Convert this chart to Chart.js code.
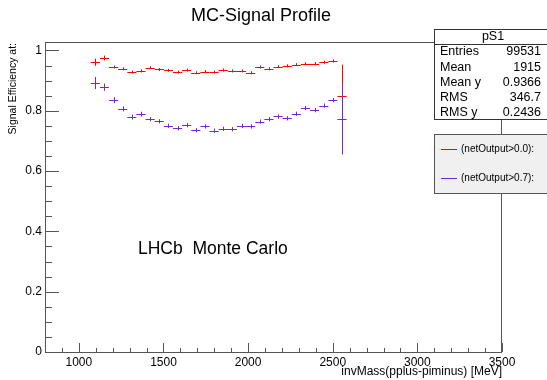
<!DOCTYPE html>
<html>
<head>
<meta charset="utf-8">
<script src="https://cdn.jsdelivr.net/npm/chart.js@4.4.1/dist/chart.umd.min.js"></script>
<style>
  html, body { margin: 0; padding: 0; background: #fff; }
</style>
</head>
<body>
<canvas id="profile" width="547" height="380"></canvas>
<script>
// bin centres (MeV), 54 MeV bins
const massBins = [1097, 1151, 1205, 1259, 1313, 1367, 1421, 1475, 1529, 1583,
  1637, 1691, 1745, 1799, 1853, 1907, 1961, 2015, 2069, 2123,
  2177, 2231, 2285, 2339, 2393, 2447, 2501, 2555];
const binHalfWidth = 27;

// netOutput > 0.0
const effCut00 = [0.961, 0.975, 0.945, 0.939, 0.928, 0.932, 0.943, 0.937, 0.934, 0.928,
  0.935, 0.926, 0.930, 0.928, 0.935, 0.932, 0.932, 0.926, 0.945, 0.939,
  0.946, 0.949, 0.953, 0.956, 0.956, 0.961, 0.965, 0.848];
const errCut00 = [0.012, 0.008, 0.005, 0.005, 0.005, 0.005, 0.005, 0.005, 0.005, 0.005,
  0.005, 0.005, 0.005, 0.005, 0.005, 0.005, 0.005, 0.005, 0.005, 0.005,
  0.005, 0.005, 0.005, 0.005, 0.005, 0.005, 0.005, 0.105];

// netOutput > 0.7
const effCut07 = [0.892, 0.878, 0.835, 0.806, 0.779, 0.789, 0.772, 0.765, 0.750, 0.742,
  0.752, 0.736, 0.748, 0.734, 0.740, 0.739, 0.750, 0.748, 0.764, 0.772,
  0.781, 0.775, 0.790, 0.809, 0.802, 0.817, 0.835, 0.773];
const errCut07 = [0.020, 0.012, 0.010, 0.008, 0.008, 0.008, 0.007, 0.007, 0.007, 0.007,
  0.007, 0.007, 0.007, 0.007, 0.007, 0.007, 0.007, 0.007, 0.007, 0.007,
  0.007, 0.007, 0.007, 0.007, 0.007, 0.007, 0.007, 0.118];

const xTicks = [1000, 1500, 2000, 2500, 3000, 3500];
const xMinorTicks = [900, 1100, 1200, 1300, 1400, 1600, 1700, 1800, 1900, 2100, 2200, 2300, 2400,
  2600, 2700, 2800, 2900, 3100, 3200, 3300, 3400];
const yTicks = [0, 0.2, 0.4, 0.6, 0.8, 1];
const yMinorTicks = [0.05, 0.1, 0.15, 0.25, 0.3, 0.35, 0.45, 0.5, 0.55, 0.65, 0.7, 0.75, 0.85, 0.9, 0.95, 1.0];

const statsRows = [["Entries", "99531"], ["Mean", "1915"], ["Mean y", "0.9366"], ["RMS", "346.7"], ["RMS y", "0.2436"]];

const RED = "#ff0000";
const VIOLET = "#7a22dc";
const FRAME = "#555555";
const FONT = "'Liberation Sans', Arial, sans-serif";
const seriesColors = [RED, VIOLET];

function toPoints(vals) {
  return massBins.map((m, i) => ({ x: m, y: vals[i] }));
}

// draws error crosses, inward ticks, frame, title, stats & legend boxes
const rootStyle = {
  id: "rootStyle",
  afterDatasetsDraw(chart) {
    const ctx = chart.ctx;
    const xs = chart.scales.x, ys = chart.scales.y;
    const a = chart.chartArea;
    ctx.save();
    ctx.beginPath();
    ctx.rect(a.left, a.top, a.right - a.left, a.bottom - a.top);
    ctx.clip();
    [[effCut00, errCut00, RED], [effCut07, errCut07, VIOLET]].forEach(([eff, err, col]) => {
      ctx.strokeStyle = col;
      ctx.lineWidth = 1;
      massBins.forEach((m, i) => {
        const px = Math.round(xs.getPixelForValue(m)) + 0.5;
        const py = Math.round(ys.getPixelForValue(eff[i])) + 0.5;
        const x1 = xs.getPixelForValue(m - binHalfWidth);
        const x2 = xs.getPixelForValue(m + binHalfWidth);
        const y1 = ys.getPixelForValue(eff[i] + err[i]);
        const y2 = ys.getPixelForValue(eff[i] - err[i]);
        ctx.beginPath();
        ctx.moveTo(x1, py); ctx.lineTo(x2, py);
        ctx.moveTo(px, y1); ctx.lineTo(px, y2);
        ctx.stroke();
      });
    });
    ctx.restore();
  },
  afterDraw(chart) {
    const ctx = chart.ctx;
    const xs = chart.scales.x, ys = chart.scales.y;
    const a = chart.chartArea;
    ctx.save();

    // frame
    ctx.strokeStyle = FRAME;
    ctx.lineWidth = 1;
    ctx.strokeRect(a.left + 0.5, a.top + 0.5, a.right - a.left - 1, a.bottom - a.top);

    // ticks pointing inwards
    ctx.beginPath();
    xTicks.forEach(v => { const p = Math.round(xs.getPixelForValue(v)) + 0.5; ctx.moveTo(p, a.bottom); ctx.lineTo(p, a.bottom - 9); });
    xMinorTicks.forEach(v => { const p = Math.round(xs.getPixelForValue(v)) + 0.5; ctx.moveTo(p, a.bottom); ctx.lineTo(p, a.bottom - 4); });
    yTicks.forEach(v => { const p = Math.round(ys.getPixelForValue(v)) + 0.5; ctx.moveTo(a.left, p); ctx.lineTo(a.left + 14, p); });
    yMinorTicks.forEach(v => { const p = Math.round(ys.getPixelForValue(v)) + 0.5; ctx.moveTo(a.left, p); ctx.lineTo(a.left + 7, p); });
    ctx.stroke();

    // title + axis titles
    ctx.fillStyle = "#000";
    ctx.font = "18px " + FONT;
    ctx.textAlign = "center";
    ctx.textBaseline = "middle";
    ctx.fillText("MC-Signal Profile", 261, 16);

    ctx.font = "12px " + FONT;
    ctx.textAlign = "right";
    ctx.fillText("invMass(pplus-piminus) [MeV]", 502, 372);

    ctx.save();
    ctx.font = "10.5px " + FONT;
    ctx.translate(13, 43);
    ctx.rotate(-Math.PI / 2);
    ctx.textAlign = "right";
    ctx.fillText("Signal Efficiency at:", 0, 0);
    ctx.restore();

    // LHCb label
    ctx.font = "17.5px " + FONT;
    ctx.textAlign = "left";
    ctx.fillText("LHCb  Monte Carlo", 138, 249);

    // stats box
    const sx = 434.5, sy = 29.5, sw = 120, sh = 90;
    ctx.fillStyle = "#fff";
    ctx.fillRect(sx, sy, sw, sh);
    ctx.strokeStyle = "#333";
    ctx.strokeRect(sx, sy, sw, sh);
    ctx.beginPath();
    ctx.moveTo(sx, 44.5); ctx.lineTo(sx + sw, 44.5);
    ctx.stroke();
    ctx.fillStyle = "#000";
    ctx.font = "12.5px " + FONT;
    ctx.textAlign = "center";
    ctx.fillText("pS1", 493, 37);
    statsRows.forEach((r, i) => {
      const yy = 52 + i * 15.2;
      ctx.textAlign = "left";
      ctx.fillText(r[0], 440, yy);
      ctx.textAlign = "right";
      ctx.fillText(r[1], 541, yy);
    });

    // legend box
    const lx = 434.5, ly = 134.5, lw = 120, lh = 59;
    ctx.fillStyle = "#f0f0f0";
    ctx.fillRect(lx, ly, lw, lh);
    ctx.strokeStyle = "#555";
    ctx.strokeRect(lx, ly, lw, lh);
    chart.data.datasets.forEach((ds, i) => {
      const yy = 149.5 + i * 29;
      ctx.strokeStyle = seriesColors[i];
      ctx.lineWidth = 1;
      ctx.beginPath();
      ctx.moveTo(441, yy); ctx.lineTo(457, yy);
      ctx.stroke();
      ctx.fillStyle = "#000";
      ctx.font = "10px " + FONT;
      ctx.textAlign = "left";
      ctx.fillText(ds.label, 461, yy);
    });

    ctx.restore();
  }
};

new Chart(document.getElementById("profile"), {
  type: "scatter",
  data: {
    datasets: [
      { label: "(netOutput>0.0):", data: toPoints(effCut00), borderColor: RED, backgroundColor: RED, pointRadius: 0, showLine: false },
      { label: "(netOutput>0.7):", data: toPoints(effCut07), borderColor: VIOLET, backgroundColor: VIOLET, pointRadius: 0, showLine: false }
    ]
  },
  options: {
    responsive: false,
    devicePixelRatio: 1,
    animation: false,
    layout: { padding: { top: 42, right: 45, left: 0, bottom: 0 } },
    plugins: { legend: { display: false }, title: { display: false }, tooltip: { enabled: false } },
    scales: {
      x: {
        type: "linear",
        min: 800,
        max: 3500,
        afterBuildTicks: s => { s.ticks = xTicks.map(v => ({ value: v })); },
        afterFit: s => { s.height = 28; },
        grid: { display: false, drawTicks: false },
        border: { display: false },
        ticks: { color: "#000", font: { family: FONT, size: 12 }, padding: 3, maxRotation: 0, callback: v => String(v) }
      },
      y: {
        type: "linear",
        min: 0,
        max: 1.028,
        afterBuildTicks: s => { s.ticks = yTicks.map(v => ({ value: v })); },
        afterFit: s => { s.width = 45; },
        grid: { display: false, drawTicks: false },
        border: { display: false },
        ticks: { color: "#000", font: { family: FONT, size: 12 }, padding: 3, callback: v => String(v) }
      }
    }
  },
  plugins: [rootStyle]
});
</script>
</body>
</html>
